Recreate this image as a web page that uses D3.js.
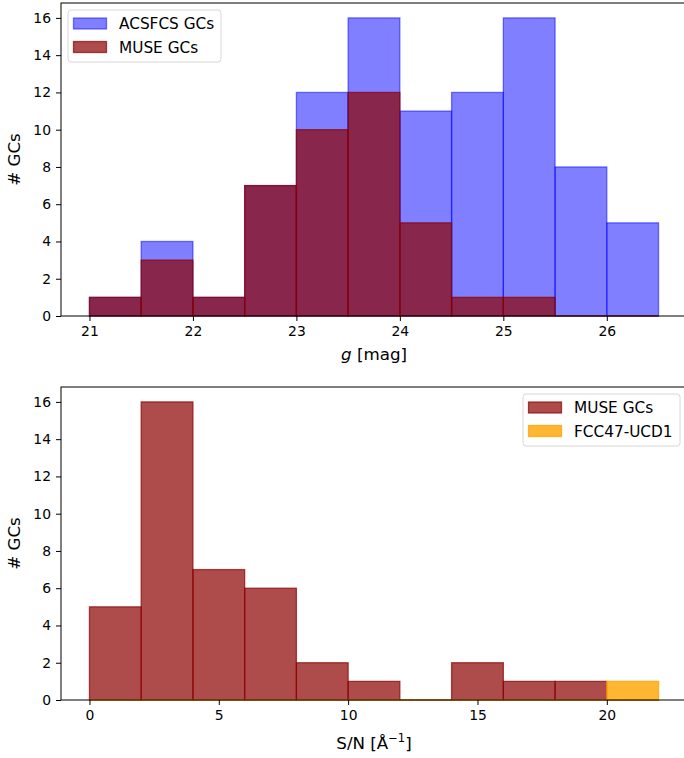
<!DOCTYPE html>
<html>
<head>
<meta charset="utf-8">
<script src="https://cdn.jsdelivr.net/npm/d3@7"></script>
<style>
  body { margin: 0; background: #fff; }
  text { font-family: "DejaVu Sans", sans-serif; }
</style>
</head>
<body>
<script>
const WIDTH = 684;
const HEIGHT = 758;

// top panel: g magnitude bins (width 0.5)
var gBinEdges = [21, 21.5, 22, 22.5, 23, 23.5, 24, 24.5, 25, 25.5, 26, 26.5];
var acsfcsCounts = [1, 4, 1, 7, 12, 16, 11, 12, 16, 8, 5];
var museGCounts = [1, 3, 1, 7, 10, 12, 5, 1, 1, 0, 0];
var gTicks = [21, 22, 23, 24, 25, 26];

// bottom panel: S/N bins (width 2)
var snBinEdges = [0, 2, 4, 6, 8, 10, 12, 14, 16, 18, 20, 22];
var museSnCounts = [5, 16, 7, 6, 2, 1, 0, 2, 1, 1, 0];
var ucdSnCounts = [0, 0, 0, 0, 0, 0, 0, 0, 0, 0, 1];
var snTicks = [0, 5, 10, 15, 20];

var yTicks = [0, 2, 4, 6, 8, 10, 12, 14, 16];

var TICK_FONT = 13.9;
var LABEL_FONT = 16.7;
var LEGEND_FONT = 15.3;

var svg = d3.select('body').append('svg')
    .attr('width', WIDTH)
    .attr('height', HEIGHT);

var toBins = function (edges, counts) {
    return counts.map(function (c, i) {
        return { x0: edges[i], x1: edges[i + 1], n: c };
    });
};

var drawPanel = function (opts) {
    var x = d3.scaleLinear().domain(opts.xDomain).range([61, 687]);
    var y = d3.scaleLinear().domain([0, 16.8]).range([opts.bottom, opts.top]);
    var g = svg.append('g');

    opts.series.forEach(function (s) {
        var bins = toBins(s.edges, s.counts);
        g.append('g').selectAll('rect')
            .data(bins.filter(function (d) { return d.n > 0; }))
            .enter()
            .append('rect')
            .attr('x', function (d) { return x(d.x0); })
            .attr('width', function (d) { return x(d.x1) - x(d.x0); })
            .attr('y', function (d) { return y(d.n); })
            .attr('height', function (d) { return y(0) - y(d.n); })
            .attr('fill', s.color)
            .attr('fill-opacity', s.alpha)
            .attr('stroke', s.color)
            .attr('stroke-opacity', s.alpha)
            .attr('stroke-width', 1.3);
        // empty bins still leave their edge on the baseline
        g.append('g').selectAll('line')
            .data(bins.filter(function (d) { return d.n === 0; }))
            .enter()
            .append('line')
            .attr('x1', function (d) { return x(d.x0); })
            .attr('x2', function (d) { return x(d.x1); })
            .attr('y1', y(0)).attr('y2', y(0))
            .attr('stroke', s.color)
            .attr('stroke-opacity', s.alpha)
            .attr('stroke-width', 1.3);
    });

    var xAxis = d3.axisBottom(x).tickValues(opts.xTicks).tickSize(5).tickPadding(5)
        .tickFormat(d3.format('d'));
    var yAxis = d3.axisLeft(y).tickValues(yTicks).tickSize(5).tickPadding(5);

    var xa = g.append('g').attr('transform', 'translate(0,' + opts.bottom + ')').call(xAxis);
    var ya = g.append('g').attr('transform', 'translate(61,0)').call(yAxis);
    [xa, ya].forEach(function (a) {
        a.select('.domain').remove();
        a.selectAll('line').attr('stroke', '#000').attr('stroke-width', 1);
        a.selectAll('text').attr('font-size', TICK_FONT).attr('fill', '#000')
            .style('font-family', '"DejaVu Sans", sans-serif');
    });

    // spines
    g.append('rect')
        .attr('x', 61).attr('y', opts.top)
        .attr('width', 626).attr('height', opts.bottom - opts.top)
        .attr('fill', 'none').attr('stroke', '#000').attr('stroke-width', 1);

    g.append('text')
        .attr('transform', 'translate(19.5,' + (opts.top + opts.bottom) / 2 + ') rotate(-90)')
        .attr('text-anchor', 'middle')
        .attr('font-size', LABEL_FONT)
        .text('# GCs');

    opts.xLabel(g.append('text')
        .attr('x', 374)
        .attr('y', opts.bottom + opts.labelDy)
        .attr('text-anchor', 'middle')
        .attr('font-size', LABEL_FONT));

    // legend
    var lg = g.append('g');
    lg.append('rect')
        .attr('x', opts.legend.x).attr('y', opts.legend.y)
        .attr('width', opts.legend.w).attr('height', 52)
        .attr('rx', 3)
        .attr('fill', '#fff').attr('fill-opacity', 0.8)
        .attr('stroke', '#d6d6d6');
    opts.series.forEach(function (s, i) {
        lg.append('rect')
            .attr('x', opts.legend.x + 5.5).attr('y', opts.legend.y + 8 + i * 23.5)
            .attr('width', 33).attr('height', 11)
            .attr('fill', s.color).attr('fill-opacity', s.alpha)
            .attr('stroke', s.color).attr('stroke-opacity', s.alpha)
            .attr('stroke-width', 1.3);
        lg.append('text')
            .attr('x', opts.legend.x + 51).attr('y', opts.legend.y + 19 + i * 23.5)
            .attr('font-size', LEGEND_FONT)
            .text(s.name);
    });
};

drawPanel({
    top: 3, bottom: 316, labelDy: 44,
    xDomain: [20.725, 26.775],
    xTicks: gTicks,
    series: [
        { name: 'ACSFCS GCs', edges: gBinEdges, counts: acsfcsCounts, color: 'blue', alpha: 0.5 },
        { name: 'MUSE GCs', edges: gBinEdges, counts: museGCounts, color: 'darkred', alpha: 0.7 }
    ],
    legend: { x: 68, y: 10, w: 153 },
    xLabel: function (t) {
        t.append('tspan').attr('font-style', 'italic').text('g');
        t.append('tspan').text(' [mag]');
    }
});

drawPanel({
    top: 387, bottom: 700, labelDy: 49,
    xDomain: [-1.1, 23.1],
    xTicks: snTicks,
    series: [
        { name: 'MUSE GCs', edges: snBinEdges, counts: museSnCounts, color: 'darkred', alpha: 0.7 },
        { name: 'FCC47-UCD1', edges: snBinEdges, counts: ucdSnCounts, color: 'orange', alpha: 0.8 }
    ],
    legend: { x: 523, y: 394, w: 157 },
    xLabel: function (t) {
        t.append('tspan').text('S/N [Å');
        t.append('tspan').attr('baseline-shift', 'super').attr('font-size', 11.5).text('−1');
        t.append('tspan').text(']');
    }
});
</script>
</body>
</html>
